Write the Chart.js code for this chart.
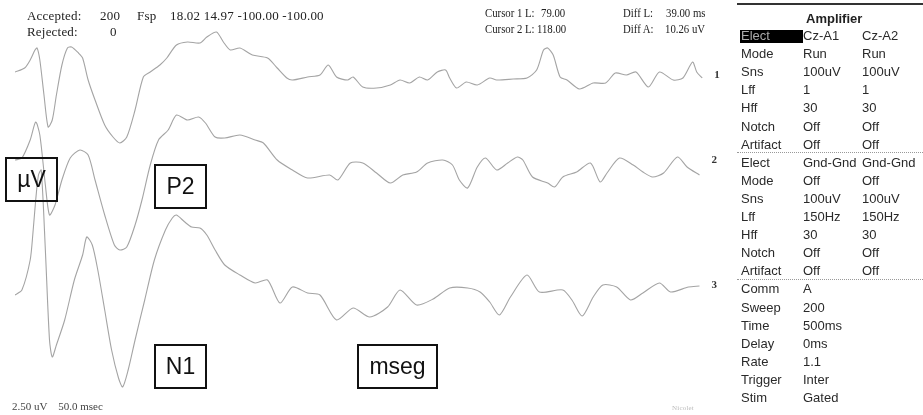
<!DOCTYPE html>
<html>
<head>
<meta charset="utf-8">
<script src="https://cdn.jsdelivr.net/npm/chart.js@4.4.1/dist/chart.umd.min.js"></script>
<style>
  html, body { margin: 0; padding: 0; background: #fff; }
  #wrap { position: relative; width: 923px; height: 415px; overflow: hidden; }
  #chart { position: absolute; left: 0; top: 0; }
  .t { position: absolute; white-space: pre; color: #333; }
  .serif { font-family: "Liberation Serif", "DejaVu Serif", serif; font-size: 13px; line-height: 13px; color: #222; letter-spacing: 0.2px; }
  .sans { font-family: "Liberation Sans", Arial, sans-serif; font-size: 13px; line-height: 13px; color: #2a2a2a; }
  .box { position: absolute; border: 2px solid #111; font-family: "Liberation Sans", Arial, sans-serif;
         font-size: 23px; color: #111; display: flex; align-items: center; justify-content: center; box-sizing: border-box; }
  .sep { position: absolute; left: 737px; width: 186px; border-top: 1px dotted #999; }
</style>
</head>
<body>
<div id="wrap">
  <canvas id="chart" width="923" height="415"></canvas>
</div>
<script>
// time axis (ms) and amplitudes (uV)
const t1 = [0, 7, 11, 14.5, 16, 18, 21, 24, 27, 30, 34, 38, 41, 46, 49, 53, 58, 65, 71, 76, 81, 87, 93, 98, 105, 110, 117, 125, 134, 139, 146, 151, 156, 163, 172, 183, 190, 197, 201, 212, 221, 227, 233, 241, 245, 252, 262, 272, 279, 286, 293, 299, 306, 312, 315, 320, 327, 335, 344, 349, 361, 371, 378, 383, 386, 390, 395, 400, 409, 419, 428, 435, 443, 450, 459, 467, 477, 484, 491, 494, 498];
const v1 = [0.8, 1.2, 2.0, 3.0, 3.2, 2.0, -1.5, -4.7, -4.0, -1.5, 1.5, 3.2, 3.3, 2.7, 2.2, 0, -2.0, -4.5, -5.7, -6.3, -5.7, -3.0, 0.3, 0.8, 1.5, 2.2, 3.5, 3.8, 3.7, 4.3, 4.8, 3.8, 3.0, 3.2, 2.5, 2.2, 1.2, 0.2, 0, 0.3, 0.5, 1.5, 0.3, 0, 0.3, -0.7, -0.8, -0.5, 0, -0.3, 0.3, 0, 0.8, 1.0, 0.2, -0.8, -0.2, -0.5, 0.2, 0, 0.1, 0.2, 1.0, 3.0, 3.2, 2.5, 0.3, 0, -0.9, -0.3, -0.3, 0.7, 0.5, 0.8, -0.7, 0.8, 0, 0.2, 1.8, 0.8, 0.2];

const t2 = [0, 5, 11, 15, 18, 22, 25, 29, 34, 40, 47, 53, 58, 65, 72, 76, 81, 87, 92, 98, 104, 111, 117, 125, 133, 138, 145, 152, 163, 174, 180, 190, 201, 212, 228, 234, 243, 252, 262, 272, 281, 291, 299, 310, 317, 322, 328, 335, 341, 349, 357, 364, 368, 375, 386, 391, 397, 407, 417, 424, 429, 438, 448, 455, 462, 470, 480, 487, 496];
const v2 = [0.5, 0.7, 2.5, 4.3, 3.0, -2.0, -5.0, -4.0, -1.5, 0.7, 1.5, 1.0, -1.5, -5.0, -8.0, -8.5, -8.2, -6.0, -3.5, 0, 2.5, 3.5, 5.0, 4.5, 4.8, 4.2, 2.8, 2.7, 3.0, 2.5, 2.2, 0.5, -0.5, -1.3, -1.0, -1.5, 0.2, 0.2, -0.8, -1.8, -1.0, -0.7, 0.2, 0.5, 0, -1.5, -2.3, -0.2, 0.7, -0.5, 0.2, 0.8, 0.5, -1.2, -1.8, -2.2, -1.2, -0.7, 0.2, -1.7, -0.8, 0.7, 0, -0.7, -1.2, -0.8, 0.8, -0.2, -1.0];

const t3 = [0, 5, 11, 13, 15, 17, 19, 22, 25, 27, 30, 36, 43, 49, 52, 56, 60, 65, 70, 75, 78, 82, 87, 94, 101, 109, 114, 117, 123, 128, 134, 139, 145, 152, 163, 174, 183, 192, 201, 212, 221, 233, 245, 257, 270, 279, 291, 303, 315, 328, 337, 344, 351, 359, 371, 380, 397, 404, 411, 419, 426, 436, 446, 455, 467, 475, 488, 496];
const v3 = [-0.5, 0, 3.0, 5.7, 9.0, 11.5, 12.0, 4.0, -5.0, -6.7, -5.5, -3.0, 1.0, 3.5, 5.3, 4.5, 2.0, -2.0, -6.0, -8.8, -9.7, -8.0, -5.0, -1.0, 3.0, 6.0, 7.2, 7.5, 6.8, 6.3, 6.2, 5.5, 4.0, 2.5, 1.5, 0.7, 1.0, -1.3, 0.3, -0.3, -0.5, -3.0, -1.8, -2.7, -1.7, 0, -1.5, -0.9, 0.2, 0.2, -0.2, -1.2, -2.5, -0.7, 1.5, -0.2, 0, -1.1, -2.6, -0.7, 0.5, 0.3, -1.0, -0.3, 0.7, -0.2, 0.3, 0.4];

const channelNames = ['1', '2', '3'];

// amplifier panel
const ampRows = ['Elect', 'Mode', 'Sns', 'Lff', 'Hff', 'Notch', 'Artifact'];
const ampCh1 = ['Cz-A1', 'Run', '100uV', '1', '30', 'Off', 'Off'];
const ampCh2 = ['Cz-A2', 'Run', '100uV', '1', '30', 'Off', 'Off'];
const ampCh3 = ['Gnd-Gnd', 'Off', '100uV', '150Hz', '30', 'Off', 'Off'];
const ampCh4 = ['Gnd-Gnd', 'Off', '100uV', '150Hz', '30', 'Off', 'Off'];
const commRows = ['Comm', 'Sweep', 'Time', 'Delay', 'Rate', 'Trigger', 'Stim'];
const commVals = ['A', '200', '500ms', '0ms', '1.1', 'Inter', 'Gated'];

// vertical stacking of the channels (uV)
const offsets = [-8, -16.5, -29];

function toPoints(ts, vs, off) {
  return ts.map((t, i) => ({ x: t, y: vs[i] + off }));
}

const traceStyle = {
  borderColor: '#a4a4a4',
  borderWidth: 1.1,
  pointRadius: 0,
  tension: 0.25,
  fill: false
};

const labelPlugin = {
  id: 'chanLabels',
  afterDatasetsDraw(chart) {
    const ctx = chart.ctx;
    const xs = chart.scales.x, ys = chart.scales.y;
    ctx.save();
    ctx.font = 'bold 11px "Liberation Serif", serif';
    ctx.fillStyle = '#333';
    ctx.textBaseline = 'middle';
    chart.data.datasets.forEach((ds, i) => {
      const last = ds.data[ds.data.length - 1];
      ctx.fillText(channelNames[i], xs.getPixelForValue(last.x) + 12, ys.getPixelForValue(offsets[i] + 0.5));
    });
    ctx.restore();
  }
};

new Chart(document.getElementById('chart').getContext('2d'), {
  type: 'line',
  data: {
    datasets: [
      Object.assign({ label: channelNames[0], data: toPoints(t1, v1, offsets[0]) }, traceStyle),
      Object.assign({ label: channelNames[1], data: toPoints(t2, v2, offsets[1]) }, traceStyle),
      Object.assign({ label: channelNames[2], data: toPoints(t3, v3, offsets[2]) }, traceStyle)
    ]
  },
  options: {
    responsive: false,
    animation: false,
    layout: { padding: { left: 15, right: 218, top: 0, bottom: 0 } },
    scales: {
      x: { type: 'linear', min: 0, max: 500, display: false },
      y: { type: 'linear', min: -41.5, max: 0, display: false }
    },
    plugins: { legend: { display: false }, tooltip: { enabled: false } }
  },
  plugins: [labelPlugin]
});

// ---- text overlay ----
const wrap = document.getElementById('wrap');
function txt(s, x, y, cls, extra) {
  const d = document.createElement('div');
  d.className = 't ' + cls;
  d.textContent = s;
  d.style.left = x + 'px';
  d.style.top = y + 'px';
  if (extra) Object.assign(d.style, extra);
  wrap.appendChild(d);
  return d;
}

txt('Accepted:', 27, 9, 'serif');
txt('200', 100, 9, 'serif');
txt('Fsp', 137, 9, 'serif');
txt('18.02 14.97 -100.00 -100.00', 170, 9, 'serif');
txt('Rejected:', 27, 25, 'serif');
txt('0', 110, 25, 'serif');
// cursor readout uses a narrow face
const cur = { fontSize: '12.5px', letterSpacing: '0px', transform: 'scaleX(0.86)', transformOrigin: 'left top' };
txt('Cursor 1 L:', 485, 7, 'serif', cur);
txt('79.00', 541, 7, 'serif', cur);
txt('Diff L:', 623, 7, 'serif', cur);
txt('39.00 ms', 666, 7, 'serif', cur);
txt('Cursor 2 L:', 485, 23, 'serif', cur);
txt('118.00', 537, 23, 'serif', cur);
txt('Diff A:', 623, 23, 'serif', cur);
txt('10.26 uV', 665, 23, 'serif', cur);
txt('2.50 uV    50.0 msec', 12, 400, 'serif', { fontSize: '11px', color: '#444', letterSpacing: '0px' });
txt('Nicolet', 672, 402, 'serif', { fontSize: '7px', color: '#bbb' });

// amplifier panel
const topLine = document.createElement('div');
Object.assign(topLine.style, { position: 'absolute', left: '737px', top: '3px', width: '186px', height: '2px', background: '#333' });
wrap.appendChild(topLine);
txt('Amplifier', 806, 12, 'sans', { fontWeight: 'bold', color: '#222' });

const hl = document.createElement('div');
Object.assign(hl.style, { position: 'absolute', left: '740px', top: '30px', width: '63px', height: '13px', background: '#000' });
wrap.appendChild(hl);

const rowY = i => 36 + i * 18.1 - 7;
ampRows.forEach((r, i) => {
  txt(r, 741, rowY(i), 'sans', i === 0 ? { color: '#aaa' } : null);
  txt(ampCh1[i], 803, rowY(i), 'sans');
  txt(ampCh2[i], 862, rowY(i), 'sans');
  txt(r, 741, rowY(i + 7), 'sans');
  txt(ampCh3[i], 803, rowY(i + 7), 'sans');
  txt(ampCh4[i], 862, rowY(i + 7), 'sans');
});
commRows.forEach((r, i) => {
  txt(r, 741, rowY(i + 14), 'sans');
  txt(commVals[i], 803, rowY(i + 14), 'sans');
});
[152, 279].forEach(y => {
  const s = document.createElement('div');
  s.className = 'sep';
  s.style.top = y + 'px';
  wrap.appendChild(s);
});

// annotation boxes
function box(s, x, y, w, h) {
  const d = document.createElement('div');
  d.className = 'box';
  d.textContent = s;
  Object.assign(d.style, { left: x + 'px', top: y + 'px', width: w + 'px', height: h + 'px' });
  wrap.appendChild(d);
}
box('µV', 5, 157, 53, 45);
box('P2', 154, 164, 53, 45);
box('N1', 154, 344, 53, 45);
box('mseg', 357, 344, 81, 45);
</script>
</body>
</html>
